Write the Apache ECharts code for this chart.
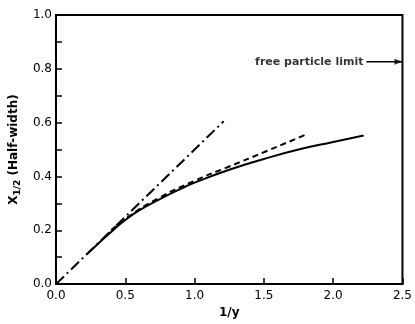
<!DOCTYPE html>
<html><head><meta charset="utf-8">
<script src="https://cdn.jsdelivr.net/npm/echarts@6/dist/echarts.min.js"></script>
<style>html,body{margin:0;padding:0;background:#fff}#c{width:415px;height:324px}</style>
</head><body><div id="c"></div>
<script>
// Data
const solidX = [0.22, 0.3, 0.4, 0.5, 0.6, 0.75, 0.9, 1.0, 1.25, 1.5, 1.75, 2.0, 2.22];
const solidY = [0.11, 0.148, 0.195, 0.238, 0.274, 0.316, 0.354, 0.377, 0.425, 0.465, 0.5, 0.528, 0.552];
const dashX = [0.4, 0.5, 0.75, 1.0, 1.25, 1.5, 1.81];
const dashY = [0.2, 0.243, 0.322, 0.384, 0.437, 0.49, 0.557];
const dashDotX = [0.0, 1.21];
const dashDotY = [0.0, 0.605];
const limitY = 0.826;
const arrowX = [2.24, 2.5];
const limitText = 'free particle limit';
const xTicks = [0, 0.5, 1.0, 1.5, 2.0, 2.5];
const yTicks = [0, 0.2, 0.4, 0.6, 0.8, 1.0];

const zip = (a, b) => a.map((v, i) => [v, b[i]]);
const font = 'DejaVu Sans';
const chart = echarts.init(document.getElementById('c'));
chart.setOption({
  animation: false,
  backgroundColor: '#fff',
  grid: { left: 54, top: 15, right: 10, bottom: 31, show: true, borderColor: '#000', borderWidth: 2 },
  xAxis: {
    type: 'value', min: 0, max: 2.5, interval: 0.5,
    name: '1/y', nameLocation: 'middle', nameGap: 22,
    nameTextStyle: { fontFamily: font, fontSize: 12, fontWeight: 'bold', color: '#000' },
    axisLine: { lineStyle: { color: '#000', width: 2 } },
    axisTick: { inside: true, length: 6, lineStyle: { color: '#000', width: 1.5 } },
    axisLabel: { fontFamily: font, fontSize: 12, color: '#000', margin: 6,
      formatter: v => xTicks.some(t => Math.abs(t - v) < 1e-6) ? v.toFixed(1) : '' },
    splitLine: { show: false }
  },
  yAxis: {
    type: 'value', min: 0, max: 1.0, interval: 0.1,
    name: '{m|X}{s|1/2}{m| (Half-width)}', nameLocation: 'middle', nameGap: 33,
    nameTextStyle: { rich: {
      m: { fontFamily: font, fontSize: 12, fontWeight: 'bold', color: '#000' },
      s: { fontFamily: font, fontSize: 9, fontWeight: 'bold', color: '#000', verticalAlign: 'bottom', padding: [7, 0, 0, 0] } } },
    axisLine: { lineStyle: { color: '#000', width: 2 } },
    axisTick: { inside: true, length: 6, lineStyle: { color: '#000', width: 1.5 } },
    axisLabel: { fontFamily: font, fontSize: 12, color: '#000', margin: 4,
      formatter: v => yTicks.some(t => Math.abs(t - v) < 1e-6) ? v.toFixed(1) : '' },
    splitLine: { show: false }
  },
  series: [
    { type: 'line', data: zip(solidX, solidY), smooth: true, showSymbol: false,
      lineStyle: { color: '#000', width: 2 } },
    { type: 'line', data: zip(dashX, dashY), smooth: true, showSymbol: false,
      lineStyle: { color: '#000', width: 2, type: [6, 4] } },
    { type: 'line', data: zip(dashDotX, dashDotY), showSymbol: false,
      lineStyle: { color: '#000', width: 2, type: [11, 4, 2, 4] } },
    { type: 'line', data: zip(arrowX, [limitY, limitY]), showSymbol: false,
      lineStyle: { color: '#000', width: 1.5 } },
    { type: 'scatter', data: [[arrowX[0], limitY]], symbolSize: 0,
      label: { show: true, position: 'left', distance: 3, formatter: limitText,
        fontFamily: font, fontSize: 11, fontWeight: 'bold', color: '#000' } },
    { type: 'scatter', data: [[arrowX[1], limitY]], symbol: 'triangle', symbolRotate: -90,
      symbolSize: [6, 8], symbolOffset: [-4, 0], itemStyle: { color: '#000' } }
  ]
});
</script></body></html>
